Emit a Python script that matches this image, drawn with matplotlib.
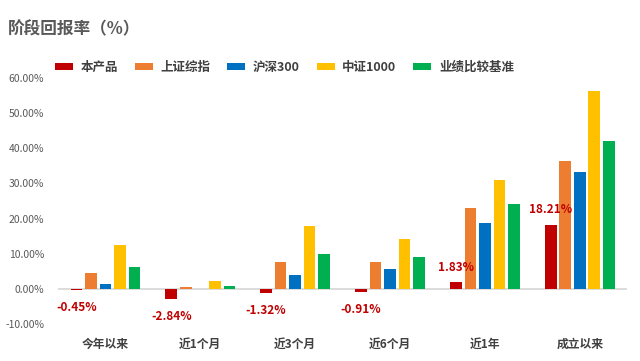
import matplotlib
matplotlib.use("Agg")
import matplotlib.pyplot as plt
import numpy as np

plt.rcParams['font.family'] = ['Noto Sans CJK SC', 'DejaVu Sans']

categories = ["今年以来", "近1个月", "近3个月", "近6个月", "近1年", "成立以来"]
series_names = ["本产品", "上证综指", "沪深300", "中证1000", "业绩比较基准"]
product = [-0.45, -2.84, -1.32, -0.91, 1.83, 18.21]
sse = [4.6, 0.6, 7.5, 7.5, 23.1, 36.4]
csi300 = [1.5, 0.0, 4.0, 5.7, 18.8, 33.2]
csi1000 = [12.6, 2.1, 18.0, 14.2, 31.0, 56.3]
benchmark = [6.3, 0.95, 9.9, 9.1, 24.2, 42.0]
colors = ["#C00000", "#ED7D31", "#0070C0", "#FFC000", "#00B050"]
yticks = [-10, 0, 10, 20, 30, 40, 50, 60]

data = [product, sse, csi300, csi1000, benchmark]

fig = plt.figure(figsize=(6.4, 3.61), dpi=100)
ax = fig.add_axes([0.0906, 0.1025, 0.8894, 0.6815])

x = np.arange(len(categories))
step = 0.153
width = 0.122
for i, (vals, name, c) in enumerate(zip(data, series_names, colors)):
    ax.bar(x + (i - 2) * step, vals, width=width, color=c, label=name, zorder=3)

# data labels for product
for xi, v in zip(x, product):
    xp = xi - 2 * step
    off = -12.5 if v < 0 else 11
    ax.annotate(f"{v:.2f}%", (xp, v), xytext=(0, off), textcoords="offset points",
                ha="center", va="center", color="#C00000", fontsize=8.5, fontweight="bold")

ax.axhline(0, color="#D9D9D9", linewidth=1.3, zorder=2)
ax.set_xlim(-0.5, len(categories) - 0.5)
ax.set_ylim(-10, 60)
ax.set_yticks(yticks)
ax.set_yticklabels([f"{t:.2f}%" for t in yticks], fontsize=7.5, color="#595959")
ax.set_xticks(x)
ax.set_xticklabels(categories, fontsize=8.5, color="#404040", fontweight="bold")
ax.tick_params(axis="both", length=0)
ax.tick_params(axis="y", pad=10)
ax.tick_params(axis="x", pad=10)
for s in ax.spines.values():
    s.set_visible(False)

leg = fig.legend(loc="center left", bbox_to_anchor=(0.068, 0.814), ncol=5, frameon=False,
                 handlelength=1.45, handleheight=0.45, columnspacing=1.35, handletextpad=0.6,
                 prop={"size": 9, "weight": "bold"})
for t in leg.get_texts():
    t.set_color("#404040")

fig.text(0.0125, 0.92, "阶段回报率（%）", fontsize=12, fontweight="bold", color="#595959",
         ha="left", va="center")

fig.savefig("out.png", dpi=100)
